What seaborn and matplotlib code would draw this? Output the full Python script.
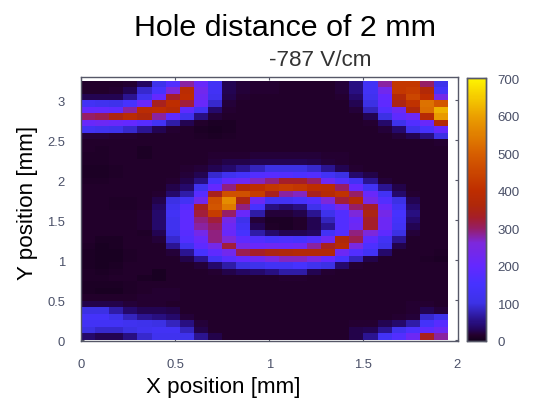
import pandas as pd
import seaborn as sns
import matplotlib.pyplot as plt
from matplotlib.colors import LinearSegmentedColormap

# Values, top row first (26 columns, 40 rows)
counts = [
    [15, 15, 15, 18, 35, 110, 170, 280, 210, 130, 30, 20, 18, 18, 15, 15, 15, 15, 20, 50, 130, 280, 420, 420, 300, 110],
    [15, 15, 18, 30, 90, 150, 260, 390, 230, 130, 30, 20, 18, 18, 15, 15, 15, 15, 20, 50, 130, 230, 420, 430, 370, 140],
    [30, 30, 30, 60, 120, 200, 330, 400, 220, 120, 25, 18, 15, 15, 15, 15, 15, 15, 18, 40, 120, 200, 370, 450, 400, 240],
    [130, 120, 110, 150, 210, 340, 400, 320, 210, 90, 20, 15, 15, 15, 15, 15, 15, 15, 15, 30, 100, 190, 350, 410, 530, 480],
    [200, 200, 190, 280, 390, 400, 380, 190, 130, 40, 18, 15, 15, 15, 15, 15, 15, 15, 15, 20, 80, 170, 220, 360, 520, 620],
    [300, 310, 350, 390, 360, 280, 190, 120, 50, 20, 15, 15, 15, 15, 15, 15, 15, 15, 15, 15, 30, 100, 190, 220, 380, 590],
    [210, 220, 210, 200, 180, 130, 70, 30, 15, 10, 10, 15, 15, 15, 15, 15, 15, 15, 15, 15, 18, 40, 110, 170, 210, 370],
    [130, 120, 110, 90, 60, 30, 18, 15, 10, 8, 10, 15, 15, 15, 15, 15, 15, 15, 15, 15, 15, 20, 40, 110, 150, 200],
    [20, 20, 18, 18, 15, 15, 15, 15, 12, 10, 12, 15, 15, 15, 15, 15, 15, 15, 15, 15, 15, 15, 20, 30, 50, 100],
    [15, 15, 15, 15, 15, 15, 15, 15, 15, 15, 15, 15, 15, 15, 15, 15, 15, 15, 15, 15, 15, 15, 15, 15, 15, 18],
    [15, 12, 15, 15, 10, 15, 15, 15, 15, 15, 15, 15, 15, 15, 15, 15, 15, 15, 15, 15, 15, 15, 15, 15, 15, 15],
    [12, 12, 15, 15, 10, 15, 15, 15, 15, 18, 18, 18, 20, 20, 20, 20, 20, 18, 18, 15, 15, 15, 15, 15, 15, 15],
    [12, 12, 15, 15, 15, 15, 15, 15, 15, 20, 25, 25, 30, 30, 30, 30, 25, 20, 18, 15, 15, 15, 15, 15, 15, 15],
    [10, 10, 12, 15, 15, 15, 15, 18, 20, 30, 40, 60, 80, 100, 100, 100, 90, 60, 30, 18, 15, 15, 15, 15, 15, 15],
    [10, 10, 12, 15, 15, 15, 15, 20, 30, 90, 120, 140, 170, 180, 170, 160, 170, 130, 100, 40, 25, 15, 15, 15, 15, 15],
    [12, 12, 15, 15, 15, 15, 18, 25, 50, 150, 200, 220, 270, 290, 330, 330, 300, 220, 170, 130, 60, 20, 15, 15, 15, 15],
    [15, 15, 15, 15, 15, 15, 25, 40, 120, 200, 290, 370, 400, 420, 430, 420, 400, 390, 300, 200, 130, 60, 25, 15, 15, 15],
    [15, 15, 15, 15, 15, 18, 40, 70, 180, 340, 470, 470, 430, 340, 280, 270, 340, 380, 410, 300, 210, 130, 40, 18, 15, 15],
    [15, 15, 12, 12, 15, 25, 100, 130, 230, 470, 570, 350, 220, 130, 130, 150, 170, 260, 320, 380, 240, 170, 100, 30, 15, 15],
    [15, 15, 12, 12, 15, 35, 120, 180, 340, 480, 540, 290, 150, 50, 40, 50, 110, 170, 230, 300, 330, 210, 130, 40, 15, 15],
    [15, 15, 15, 15, 18, 40, 130, 190, 320, 430, 300, 210, 70, 20, 20, 25, 60, 110, 170, 260, 350, 240, 150, 50, 15, 15],
    [15, 15, 15, 15, 18, 40, 120, 190, 290, 320, 240, 110, 20, 10, 10, 15, 30, 80, 170, 210, 330, 220, 140, 40, 15, 15],
    [15, 15, 15, 15, 18, 40, 120, 190, 280, 300, 220, 130, 30, 12, 10, 15, 30, 60, 170, 220, 330, 220, 130, 30, 15, 15],
    [15, 15, 15, 15, 12, 30, 110, 180, 240, 290, 210, 150, 70, 40, 30, 30, 35, 130, 170, 290, 260, 190, 100, 20, 15, 15],
    [15, 10, 10, 15, 15, 20, 90, 170, 210, 290, 260, 190, 170, 150, 160, 150, 170, 220, 360, 310, 190, 130, 60, 15, 15, 15],
    [12, 8, 10, 15, 15, 15, 60, 120, 190, 240, 320, 240, 210, 220, 210, 220, 280, 340, 380, 250, 160, 110, 25, 15, 15, 15],
    [10, 8, 8, 12, 15, 15, 20, 60, 150, 190, 230, 310, 330, 350, 360, 370, 370, 370, 220, 170, 130, 40, 15, 15, 15, 12],
    [10, 8, 8, 12, 15, 15, 15, 25, 60, 130, 180, 200, 220, 250, 270, 270, 250, 200, 150, 80, 25, 15, 15, 15, 12, 10],
    [10, 8, 10, 15, 15, 15, 15, 15, 20, 40, 70, 100, 110, 130, 130, 150, 120, 100, 40, 18, 15, 15, 15, 15, 15, 15],
    [12, 10, 12, 15, 15, 8, 15, 15, 15, 18, 25, 35, 40, 50, 70, 70, 30, 18, 15, 15, 15, 15, 15, 15, 15, 15],
    [12, 12, 15, 15, 10, 8, 15, 15, 15, 15, 15, 15, 15, 15, 18, 18, 15, 15, 15, 15, 15, 15, 15, 15, 15, 15],
    [10, 10, 10, 12, 15, 15, 15, 15, 15, 15, 15, 15, 15, 15, 15, 15, 15, 15, 15, 15, 15, 15, 15, 15, 15, 15],
    [10, 8, 8, 12, 15, 18, 18, 15, 15, 15, 15, 15, 15, 15, 15, 15, 15, 15, 15, 15, 15, 15, 15, 15, 15, 15],
    [15, 15, 15, 15, 18, 18, 18, 15, 15, 15, 15, 15, 15, 15, 15, 15, 15, 15, 15, 15, 15, 15, 15, 15, 15, 15],
    [25, 25, 25, 20, 18, 18, 15, 15, 15, 15, 15, 15, 15, 15, 15, 15, 15, 15, 15, 15, 15, 15, 15, 18, 18, 15],
    [100, 100, 70, 40, 30, 30, 25, 15, 15, 15, 15, 15, 15, 15, 15, 15, 15, 15, 15, 15, 15, 15, 15, 18, 30, 20],
    [140, 140, 110, 80, 60, 50, 40, 20, 15, 15, 15, 15, 15, 15, 15, 15, 15, 15, 15, 15, 15, 15, 18, 20, 90, 110],
    [130, 130, 130, 120, 110, 100, 80, 50, 20, 15, 15, 15, 15, 15, 15, 15, 15, 15, 15, 18, 18, 30, 40, 70, 140, 180],
    [100, 90, 90, 100, 120, 130, 130, 80, 25, 15, 15, 15, 15, 15, 15, 15, 15, 15, 15, 25, 30, 60, 120, 160, 190, 220],
    [40, 30, 30, 50, 90, 120, 120, 110, 60, 25, 15, 15, 15, 15, 15, 15, 15, 15, 15, 25, 60, 130, 170, 220, 340, 280],
]
x_ticks = [0, 0.5, 1, 1.5, 2]
x_labels = ["0", "0.5", "1", "1.5", "2"]
y_ticks = [0, 0.5, 1, 1.5, 2, 2.5, 3]
y_labels = ["0", "0.5", "1", "1.5", "2", "2.5", "3"]
bar_ticks = [0, 100, 200, 300, 400, 500, 600, 700]

# Colour bar of the picture, sampled by eye
bar_levels = [0, 15, 30, 50, 100, 150, 200, 260, 300, 330, 360, 400, 500, 600, 700]
bar_colors = ["#12001c", "#24002c", "#23055a", "#280f82", "#3c32e6", "#4632ff", "#6428ff", "#7d28dc",
              "#961e64", "#a51e28", "#af280a", "#be2d00", "#d75f00", "#eba000", "#fff500"]

sns.set_style("white")
plt.rcParams["font.family"] = ["Liberation Sans", "DejaVu Sans"]

W, H = 534, 414
edge = "#565868"
tick_text = "#4a5068"

fig = plt.figure(figsize=(W / 100, H / 100), dpi=100)
ax = fig.add_axes([81 / W, 1 - 342 / H, 376.5 / W, 264 / H])
cax = fig.add_axes([467 / W, 1 - 342 / H, 19 / W, 263 / H])

cmap = LinearSegmentedColormap.from_list("bar", list(zip([v / 700 for v in bar_levels], bar_colors)))
df = pd.DataFrame(counts)
sns.heatmap(df, ax=ax, cbar_ax=cax, cmap=cmap, vmin=0, vmax=700,
            xticklabels=False, yticklabels=False)

# mm per heatmap cell
cell_w = 2 / 26.66
cell_h = 0.0809
ax.set_xlim(0, 26.66)
ax.set_ylim(40.2, -0.62)
ax.set_xticks([v / cell_w for v in x_ticks])
ax.set_xticklabels(x_labels)
ax.set_yticks([40.05 - v / cell_h for v in y_ticks])
ax.set_yticklabels(y_labels, rotation=0)
ax.tick_params(direction="in", top=True, right=True, bottom=True, left=True,
               length=2.5, width=0.8, color=edge, labelsize=9.4, labelcolor=tick_text)
ax.tick_params(axis="x", pad=12.5)
ax.tick_params(axis="y", pad=11.5)
for spine in ax.spines.values():
    spine.set_visible(True)
    spine.set_color(edge)
    spine.set_linewidth(1.0)

cax.set_yticks(bar_ticks)
cax.tick_params(direction="in", left=True, right=True, length=2.5, width=0.8, color=edge,
                labelsize=9.6, labelcolor=tick_text, pad=8.5)
for spine in cax.spines.values():
    spine.set_visible(True)
    spine.set_color(edge)
    spine.set_linewidth(1.0)

fig.text(284.5 / W, 1 - 28 / H, "Hole distance of 2 mm", ha="center", va="center", fontsize=21.9, color="black")
fig.text(320.5 / W, 1 - 61 / H, "-787 V/cm", ha="center", va="center", fontsize=16.2, color="#333333")
fig.text(223.5 / W, 1 - 388 / H, "X position [mm]", ha="center", va="center", fontsize=16.1, color="black")
fig.text(28 / W, 1 - 203 / H, "Y position [mm]", ha="center", va="center", rotation=90, fontsize=16.1, color="black")

fig.savefig("out.png", dpi=100)
